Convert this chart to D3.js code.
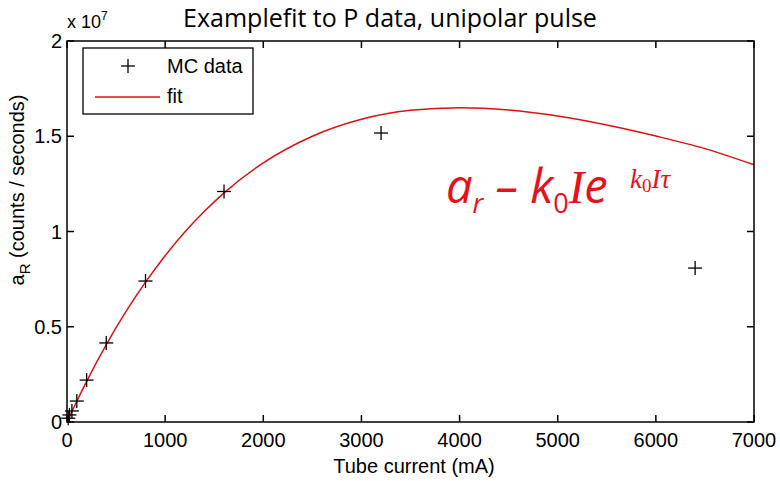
<!DOCTYPE html>
<html>
<head>
<meta charset="utf-8">
<script src="https://cdn.jsdelivr.net/npm/d3@7"></script>
<style>
  body { margin: 0; background: #fff; }
  svg { display: block; }
</style>
</head>
<body>
<svg id="chart" width="780" height="481"></svg>
<script>
// MC data points (tube current in mA, a_R in counts / seconds)
const mcCurrent = [12.5, 25, 50, 100, 200, 400, 800, 1600, 3200, 6400];
const mcRate = [0.2e6, 0.37e6, 0.58e6, 1.1e6, 2.2e6, 4.15e6, 7.4e6, 1.21e7, 1.517e7, 8.08e6];

// fit curve
const fitCurrent = [0, 100, 200, 400, 600, 800, 1000, 1200, 1400, 1600, 2000, 2500, 3000, 3500, 4000, 4500, 5000, 5500, 6000, 6500, 7000];
const fitRate = [0, 1.09e6, 2.13e6, 4.06e6, 5.79e6, 7.34e6, 8.73e6, 9.97e6, 1.106e7, 1.203e7, 1.36e7, 1.5e7, 1.589e7, 1.636e7, 1.65e7, 1.638e7, 1.606e7, 1.559e7, 1.501e7, 1.435e7, 1.35e7];

const xTicks = [0, 1000, 2000, 3000, 4000, 5000, 6000, 7000];
const yTicks = [0, 0.5e7, 1e7, 1.5e7, 2e7];

const svg = d3.select('#chart');
const margin = { left: 67, right: 26, top: 41, bottom: 59 };
const W = 780, H = 481;

const x = d3.scaleLinear().domain([0, 7000]).range([margin.left, W - margin.right]);
const y = d3.scaleLinear().domain([0, 2e7]).range([H - margin.bottom, margin.top]);

const axisFont = 'Liberation Sans, Arial, sans-serif';
const fs = 20;
const fitColor = '#dd1111';

// ticks (inside, all four sides)
const tickLen = 7;
const g = svg.append('g').attr('stroke', '#000').attr('stroke-width', 1.5);
xTicks.forEach((t) => {
  g.append('line').attr('x1', x(t)).attr('x2', x(t)).attr('y1', y(0)).attr('y2', y(0) - tickLen);
  g.append('line').attr('x1', x(t)).attr('x2', x(t)).attr('y1', y(2e7)).attr('y2', y(2e7) + tickLen);
});
yTicks.forEach((t) => {
  g.append('line').attr('x1', x(0)).attr('x2', x(0) + tickLen).attr('y1', y(t)).attr('y2', y(t));
  g.append('line').attr('x1', x(7000)).attr('x2', x(7000) - tickLen).attr('y1', y(t)).attr('y2', y(t));
});

// fit line
const line = d3.line().x((d) => x(d[0])).y((d) => y(d[1])).curve(d3.curveMonotoneX);
svg.append('path')
  .datum(fitCurrent.map((c, i) => [c, fitRate[i]]))
  .attr('d', line)
  .attr('fill', 'none')
  .attr('stroke', fitColor)
  .attr('stroke-width', 1.5);

// MC data markers
const ms = 7;
const marks = svg.append('g').attr('stroke', '#000').attr('stroke-width', 1.3);
mcCurrent.forEach((c, i) => {
  const px = x(c), py = y(mcRate[i]);
  marks.append('line').attr('x1', px - ms).attr('x2', px + ms).attr('y1', py).attr('y2', py);
  marks.append('line').attr('x1', px).attr('x2', px).attr('y1', py - ms).attr('y2', py + ms);
});

// box
svg.append('rect')
  .attr('x', x(0)).attr('y', y(2e7))
  .attr('width', x(7000) - x(0)).attr('height', y(0) - y(2e7))
  .attr('fill', 'none').attr('stroke', '#000').attr('stroke-width', 1.5);

// tick labels
svg.append('g').selectAll('text').data(xTicks).join('text')
  .attr('x', (d) => x(d)).attr('y', y(0) + 25)
  .attr('text-anchor', 'middle')
  .attr('font-family', axisFont).attr('font-size', fs)
  .text((d) => d);

svg.append('g').selectAll('text').data(yTicks).join('text')
  .attr('x', x(0) - 5).attr('y', (d) => y(d) + 7)
  .attr('text-anchor', 'end')
  .attr('font-family', axisFont).attr('font-size', fs)
  .text((d) => d / 1e7);

// exponent
const expo = svg.append('text').attr('x', x(0)).attr('y', 28)
  .attr('font-family', axisFont).attr('font-size', 18);
expo.append('tspan').text('x 10');
expo.append('tspan').attr('dy', -8).attr('font-size', 12).text('7');

// axis labels
svg.append('text')
  .attr('x', 414).attr('y', 473)
  .attr('text-anchor', 'middle')
  .attr('font-family', axisFont).attr('font-size', fs)
  .text('Tube current (mA)');

const yl = svg.append('text')
  .attr('transform', 'translate(24,190) rotate(-90)')
  .attr('text-anchor', 'middle')
  .attr('font-family', axisFont).attr('font-size', fs);
yl.append('tspan').text('a');
yl.append('tspan').attr('dy', 6).attr('font-size', 15).text('R');
yl.append('tspan').attr('dy', -6).text(' (counts / seconds)');

// title
svg.append('text')
  .attr('x', 390).attr('y', 27)
  .attr('text-anchor', 'middle')
  .attr('font-family', 'Open Sans, sans-serif').attr('font-size', 25)
  .text('Examplefit to P data, unipolar pulse');

// legend
const lg = svg.append('g');
lg.append('rect').attr('x', 83).attr('y', 48).attr('width', 170).attr('height', 66)
  .attr('fill', '#fff').attr('stroke', '#000').attr('stroke-width', 1.3);
lg.append('line').attr('x1', 121).attr('x2', 135).attr('y1', 66).attr('y2', 66).attr('stroke', '#000').attr('stroke-width', 1.3);
lg.append('line').attr('x1', 128).attr('x2', 128).attr('y1', 59).attr('y2', 73).attr('stroke', '#000').attr('stroke-width', 1.3);
lg.append('text').attr('x', 167).attr('y', 73).attr('font-family', axisFont).attr('font-size', fs).text('MC data');
lg.append('line').attr('x1', 95).attr('x2', 160).attr('y1', 97).attr('y2', 97).attr('stroke', fitColor).attr('stroke-width', 1.5);
lg.append('text').attr('x', 167).attr('y', 103).attr('font-family', axisFont).attr('font-size', fs).text('fit');

// formula annotation
const red = '#e8101a';
const f = svg.append('text').attr('x', 446).attr('y', 203)
  .attr('font-family', 'Open Sans, sans-serif').attr('font-style', 'italic')
  .attr('font-size', 47).attr('fill', red);
f.append('tspan').text('a');
f.append('tspan').attr('dy', 10).attr('font-size', 27).text('r');
f.append('tspan').attr('dy', -10).text(' – k');
f.append('tspan').attr('dy', 10).attr('font-size', 27).attr('font-style', 'normal').text('0');
f.append('tspan').attr('dy', -10).attr('font-family', 'Liberation Serif, serif').text('I');
f.append('tspan').text('e');

const s = svg.append('text').attr('x', 630).attr('y', 188)
  .attr('font-family', 'Liberation Serif, serif').attr('font-style', 'italic')
  .attr('font-size', 27).attr('fill', red);
s.append('tspan').text('k');
s.append('tspan').attr('dy', 4).attr('font-size', 19).attr('font-style', 'normal').text('0');
s.append('tspan').attr('dy', -4).text('Iτ');
</script>
</body>
</html>
